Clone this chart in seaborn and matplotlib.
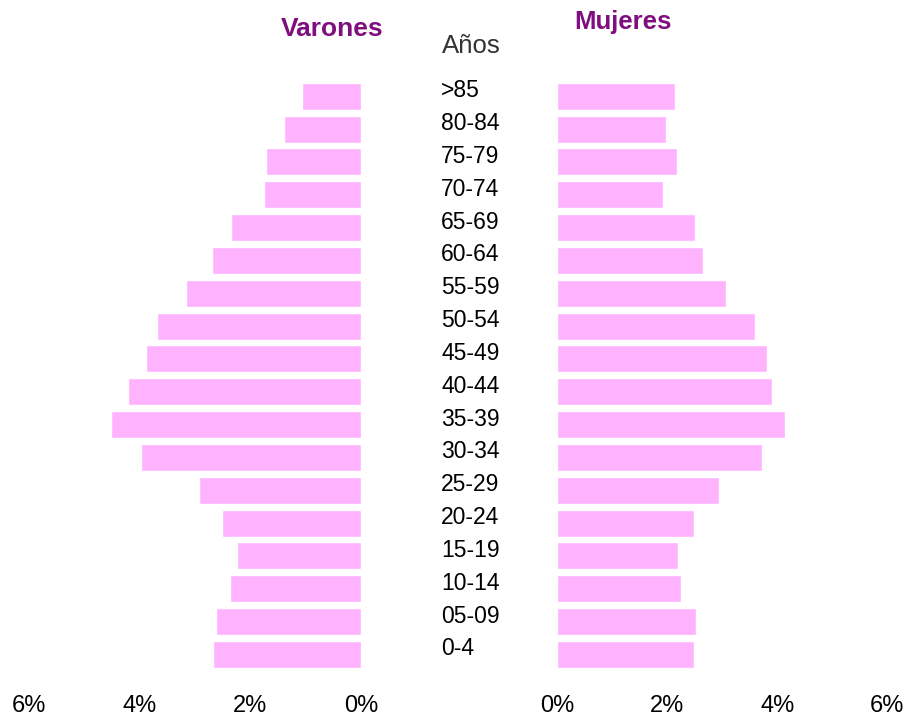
import matplotlib
matplotlib.use("Agg")
import matplotlib.pyplot as plt
import pandas as pd
import seaborn as sns

# grupos de edad, de arriba hacia abajo
edades = [">85", "80-84", "75-79", "70-74", "65-69", "60-64", "55-59", "50-54",
          "45-49", "40-44", "35-39", "30-34", "25-29", "20-24", "15-19",
          "10-14", "05-09", "0-4"]
# porcentaje de poblacion
varones = [1.07, 1.39, 1.71, 1.76, 2.35, 2.69, 3.16, 3.68, 3.89, 4.22,
           4.51, 3.98, 2.93, 2.51, 2.25, 2.36, 2.62, 2.67]
mujeres = [2.14, 1.98, 2.18, 1.93, 2.50, 2.65, 3.06, 3.59, 3.82, 3.90,
           4.15, 3.72, 2.95, 2.48, 2.20, 2.25, 2.53, 2.49]
ticks = [0, 2, 4, 6]
tick_labels = ["0%", "2%", "4%", "6%"]

df = pd.DataFrame({"edad": edades, "Varones": varones, "Mujeres": mujeres})

sns.set_style("white")
plt.rcParams["font.family"] = ["Liberation Sans", "DejaVu Sans"]

rosa = "#FFB3FF"
morado = "#7F0F7E"

fig = plt.figure(figsize=(9.1, 7.17), dpi=100)
bottom, height = 0.0643, 0.8244
ax_l = fig.add_axes([0.0319, bottom, 0.3648, height])
ax_r = fig.add_axes([0.6126, bottom, 0.3621, height])
ax_m = fig.add_axes([0.40, bottom, 0.21, height])

sns.barplot(data=df, x="Varones", y="edad", order=edades, orient="h",
            color=rosa, saturation=1, width=0.82, ax=ax_l)
sns.barplot(data=df, x="Mujeres", y="edad", order=edades, orient="h",
            color=rosa, saturation=1, width=0.82, ax=ax_r)

n = len(edades)
for ax in (ax_l, ax_r, ax_m):
    ax.set_ylim(n - 0.5, -0.5)
    ax.set_yticks([])
    ax.set_ylabel("")
    ax.set_xlabel("")
    for s in ax.spines.values():
        s.set_visible(False)

ax_l.set_xlim(6, 0)
ax_r.set_xlim(0, 6)
for ax in (ax_l, ax_r):
    ax.set_xticks(ticks)
    ax.set_xticklabels(tick_labels, fontsize=17)
    ax.tick_params(axis="x", length=0, pad=17, labelcolor="black")

# etiquetas de edad en el centro
ax_m.set_xlim(0, 1)
ax_m.set_xticks([])
for i, e in enumerate(edades):
    ax_m.text(0.403, i + 0.03, e, ha="left", va="baseline", fontsize=16.5,
              color="black")

fig.text(0.365, 0.9498, "Varones", ha="center", va="baseline",
         fontsize=19, fontweight="bold", color=morado)
fig.text(0.684, 0.959, "Mujeres", ha="center", va="baseline",
         fontsize=18.5, fontweight="bold", color=morado)
fig.text(0.5176, 0.9265, "Años", ha="center", va="baseline",
         fontsize=18.5, color="#333333")

fig.savefig("out.png", dpi=100, facecolor="white")
